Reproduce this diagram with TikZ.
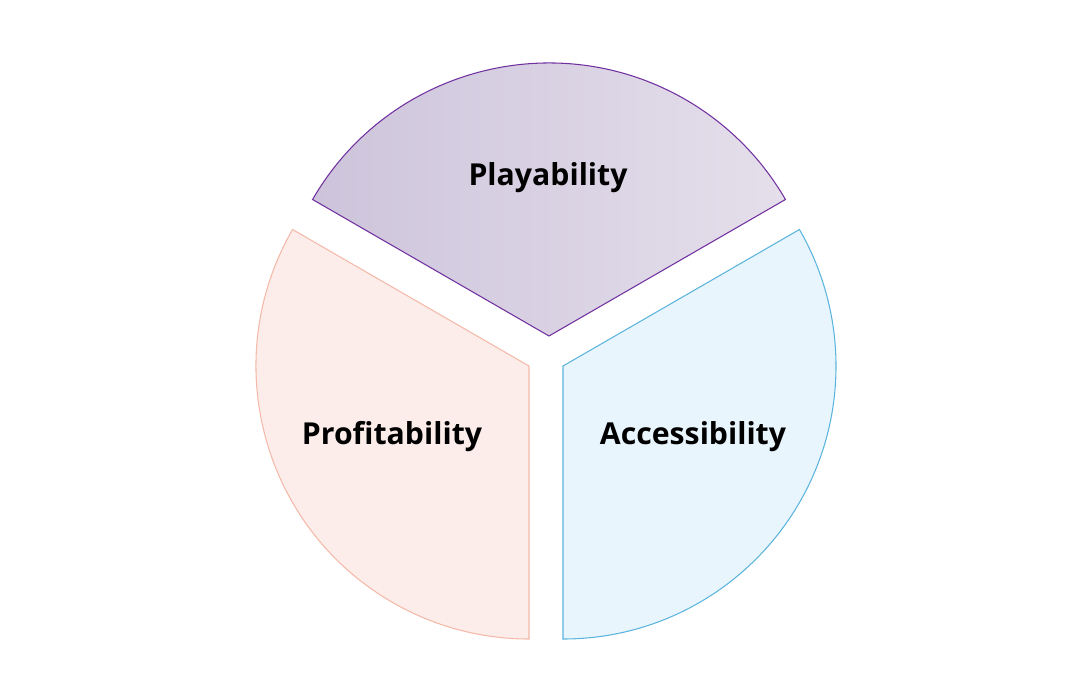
\documentclass[tikz,border=0pt]{standalone}
\usepackage{fontspec}
\setmainfont{Open Sans}
\definecolor{playline}{HTML}{7030A0}
\definecolor{playleft}{HTML}{CDC4DB}
\definecolor{playright}{HTML}{E5DFEB}
\definecolor{profline}{HTML}{F4B9A8}
\definecolor{proffill}{HTML}{FCEDEA}
\definecolor{accline}{HTML}{5BB4DD}
\definecolor{accfill}{HTML}{E8F5FD}
\tikzset{
  label/.style={font=\fontsize{17.2}{21}\selectfont\bfseries, text=black},
}
\begin{document}
\begin{tikzpicture}[x=0.02cm, y=0.02cm]
        \useasboundingbox (0,0) rectangle (1078,698);

        % Top slice (Playability)
        \draw[playline, line width=0.6pt, left color=playleft, right color=playright]
            (549,362) -- ++(150:273) arc[start angle=150, end angle=30, radius=273] -- cycle;
        \node[label] (play) at (548,520) {Playability};

        % Lower left slice (Profitability)
        \draw[profline, line width=0.6pt, fill=proffill]
            (529,332) -- ++(150:273) arc[start angle=150, end angle=270, radius=273] -- cycle;
        \node[label] (prof) at (392,261) {Profitability};

        % Lower right slice (Accessibility)
        \draw[accline, line width=0.6pt, fill=accfill]
            (563,332) -- ++(-90:273) arc[start angle=-90, end angle=30, radius=273] -- cycle;
        \node[label] (acc) at (693,261) {Accessibility};
    \end{tikzpicture}
\end{document}
